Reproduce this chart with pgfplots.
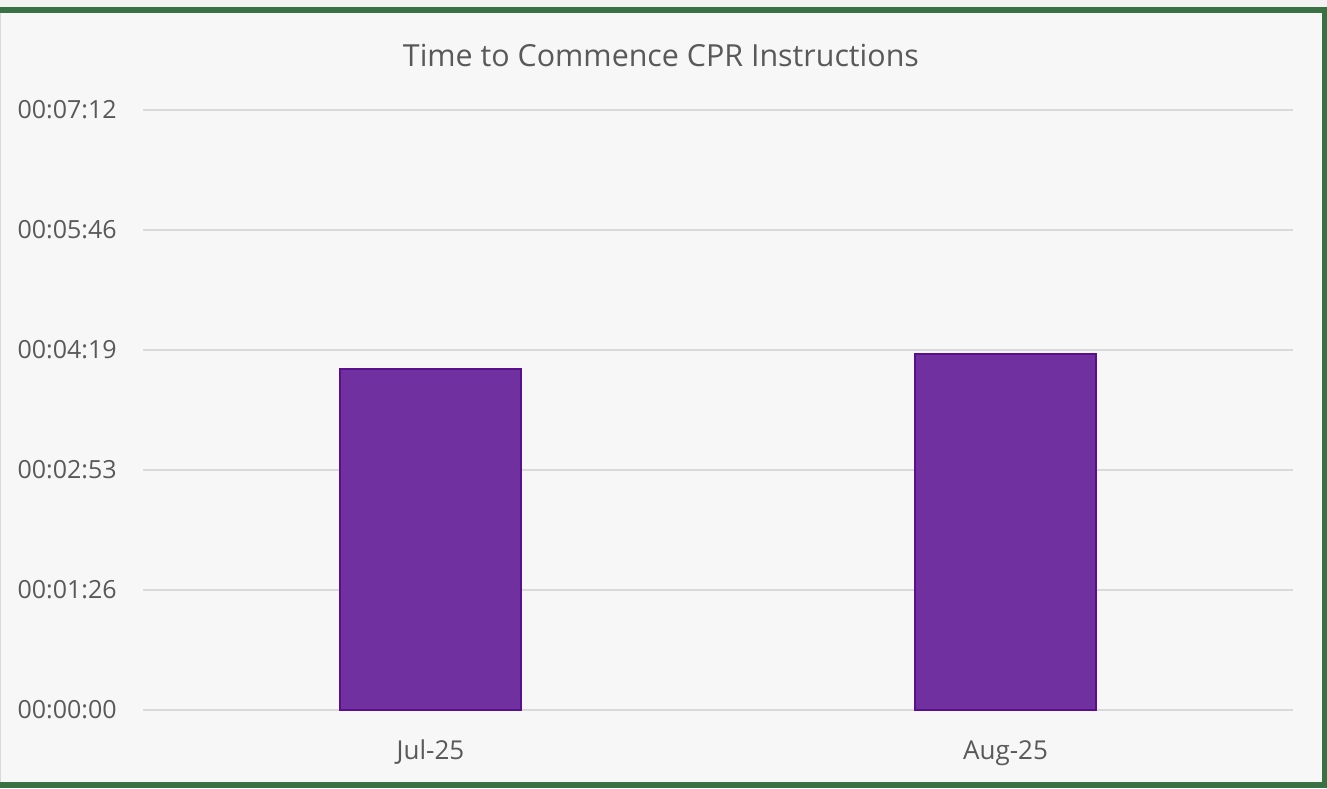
\documentclass[border=0pt]{standalone}
\usepackage{fontspec}
\setmainfont{Open Sans}
\usepackage{pgfplots}
\pgfplotsset{compat=1.18}
\definecolor{bgc}{HTML}{F7F7F7}
\definecolor{frame}{HTML}{3A7142}
\definecolor{barfill}{HTML}{7030A0}
\definecolor{baredge}{HTML}{5A0F8C}
\definecolor{gridc}{HTML}{D9D9D9}
\definecolor{txt}{HTML}{595959}

% seconds on the y axis; ticks are multiples of 0.001 day (86.4 s)
\pgfplotstableread{
x  secs
0  245.5
1  256.3
}\cprdata

\begin{document}
\begin{tikzpicture}
% 1 px of the reference = 0.5pt
\path[use as bounding box] (0,0) rectangle (663.5pt,394pt);
\fill[bgc] (0,0) rectangle (663.5pt,394pt);
\fill[white!95!black] (0,390.5pt) rectangle (663.5pt,394pt);
\fill[frame] (0,387.5pt) rectangle (663.5pt,390.5pt);
\fill[frame] (661pt,0) rectangle (663.5pt,390.5pt);
\fill[frame] (0,0) rectangle (663.5pt,3pt);
\draw[gridc, line width=0.5pt] (0.25pt,3pt) -- (0.25pt,387.5pt);
\begin{axis}[
    at={(71.5pt,39pt)}, anchor=south west,
    scale only axis, width=575pt, height=300pt,
    xmin=-0.5, xmax=1.5, ymin=0, ymax=432,
    axis line style={draw=none},
    major tick length=0pt,
    xtick={0,1}, xticklabels={Jul-25,Aug-25},
    ytick={0,86.4,172.8,259.2,345.6,432},
    yticklabels={00:00:00,00:01:26,00:02:53,00:04:19,00:05:46,00:07:12},
    ymajorgrids, grid style={gridc, line width=1pt},
    ticklabel style={text=txt, inner sep=0pt},
    yticklabel style={font=\fontsize{12.5}{15}\selectfont, anchor=east, xshift=-13pt},
    xticklabel style={font=\fontsize{13}{15}\selectfont, anchor=base, yshift=-24.5pt},
    title={Time to Commence CPR Instructions},
    title style={font=\fontsize{15.2}{18}\selectfont, text=txt, anchor=base,
        at={(axis description cs:0.4504,1.0517)}, inner sep=0pt},
    clip=false,
]
\addplot[ybar, bar width=90.5pt, fill=barfill, draw=baredge, line width=1pt]
    table[x=x, y=secs] {\cprdata};
\end{axis}
\end{tikzpicture}
\end{document}
